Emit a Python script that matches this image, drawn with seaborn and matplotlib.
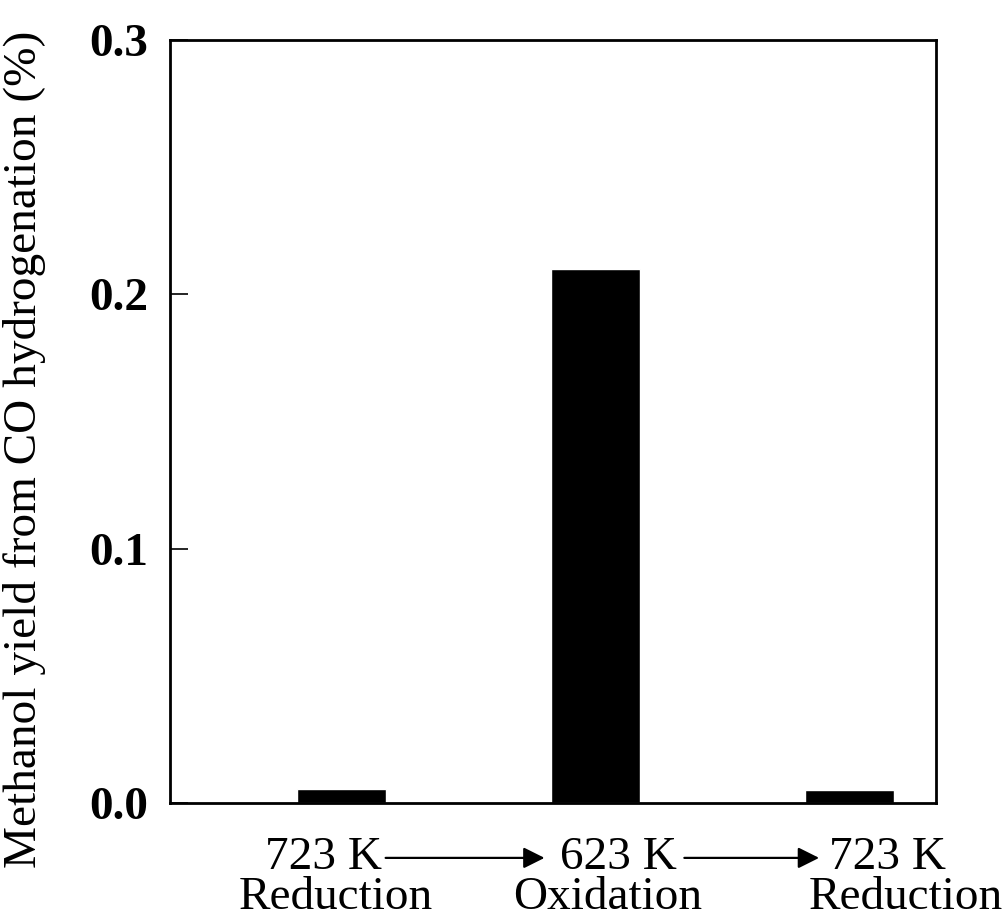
import matplotlib
matplotlib.use("Agg")
import matplotlib.pyplot as plt
import seaborn as sns
import pandas as pd

# =========================
# Dados
# =========================
temperaturas = ["723 K", "623 K", "723 K"]
tratamentos = ["Reduction", "Oxidation", "Reduction"]
rendimento = [0.0055, 0.21, 0.005]   # methanol yield (%)
etapas = ["etapa 1", "etapa 2", "etapa 3"]

yticks = [0.0, 0.1, 0.2, 0.3]
ytick_labels = ["0.0", "0.1", "0.2", "0.3"]

df = pd.DataFrame({"etapa": etapas, "rendimento": rendimento})

# =========================
# Estilo
# =========================
sns.set_style("ticks")
plt.rcParams["font.family"] = ["Liberation Serif", "DejaVu Serif"]
plt.rcParams["text.color"] = "black"
plt.rcParams["axes.labelcolor"] = "black"
plt.rcParams["ytick.color"] = "black"

fig = plt.figure(figsize=(10.08, 9.24), dpi=100)
ax = fig.add_axes([0.1687, 0.131, 0.7599, 0.8257])

sns.barplot(data=df, x="etapa", y="rendimento", color="black",
            saturation=1, width=0.35, ax=ax)

ax.set_xlim(-0.673, 2.34)
ax.set_ylim(0, 0.3)
ax.set_yticks(yticks)
ax.set_yticklabels(ytick_labels, fontsize=34, fontweight="bold")
ax.tick_params(axis="y", direction="in", length=13, width=1.2, pad=16,
               colors="black")
ax.set_xticks([])
ax.set_xlabel("")
ax.set_ylabel("Methanol yield from CO hydrogenation (%)", fontsize=34,
              color="black")
ax.yaxis.set_label_coords(-0.162, 0.463)

for s in ax.spines.values():
    s.set_visible(True)
    s.set_linewidth(2)
    s.set_color("black")

# Rótulos do eixo x (duas linhas) com setas entre eles
x_temp = [-0.07, 1.09, 2.15]
x_trat = [-0.02, 1.05, 2.22]
trans = ax.get_xaxis_transform()
for i in range(len(temperaturas)):
    ax.text(x_temp[i], -0.072, temperaturas[i], transform=trans,
            ha="center", va="center", fontsize=34, color="black", clip_on=False)
    ax.text(x_trat[i], -0.124, tratamentos[i], transform=trans,
            ha="center", va="center", fontsize=34, color="black", clip_on=False)

setas = [(0.175, 0.80), (1.35, 1.88)]
for x0, x1 in setas:
    ax.annotate("", xy=(x1, -0.072), xytext=(x0, -0.072),
                xycoords=trans, textcoords=trans, annotation_clip=False,
                arrowprops=dict(arrowstyle="-|>", color="black", lw=1.6,
                                mutation_scale=32, shrinkA=0, shrinkB=0))

plt.savefig("out.png", dpi=100)
plt.close()
